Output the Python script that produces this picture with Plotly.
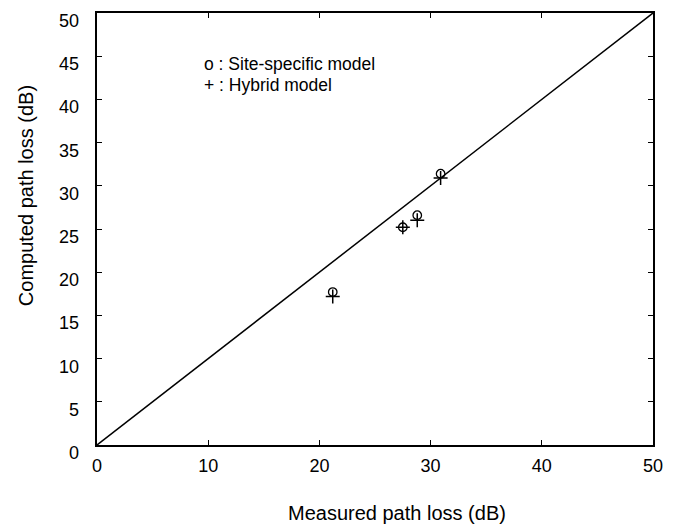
import plotly.graph_objects as go

# Measured vs. computed path loss (dB) at the test locations
measured = [21.2, 27.5, 28.8, 30.9]
site_specific = [17.7, 25.2, 26.6, 31.4]
hybrid = [17.2, 25.2, 26.0, 30.9]

# Reference line y = x
ref_line = [0, 50]

y_tick_vals = [0, 5, 10, 15, 20, 25, 30, 35, 40, 45, 50]
x_tick_vals = [0, 10, 20, 30, 40, 50]

FONT = "Liberation Sans, Arial, Helvetica, sans-serif"

# Figure geometry (pixels)
W, H = 680, 529
ML, MR, MT, MB = 97, 27, 11, 84
PW, PH = W - ML - MR, H - MT - MB

fig = go.Figure()

fig.add_trace(go.Scatter(
    x=ref_line, y=ref_line, mode="lines",
    line=dict(color="black", width=1.5),
    showlegend=False, hoverinfo="skip",
))

fig.add_trace(go.Scatter(
    x=measured, y=site_specific, mode="markers",
    marker=dict(symbol="circle-open", size=8.5, color="black",
                line=dict(color="black", width=1.3)),
    name="Site-specific model", showlegend=False,
))

fig.add_trace(go.Scatter(
    x=measured, y=hybrid, mode="markers",
    marker=dict(symbol="cross-thin-open", size=10, color="black",
                line=dict(color="black", width=1.5)),
    name="Hybrid model", showlegend=False,
))

axis_common = dict(
    showline=True, linecolor="black", linewidth=1.6, mirror="ticks",
    ticks="inside", ticklen=5, tickwidth=1.3, tickcolor="black",
    showgrid=False, zeroline=False,
    tickfont=dict(family=FONT, size=18, color="black"),
)

fig.update_xaxes(range=[0, 50], tickvals=x_tick_vals,
                 ticklabelstandoff=4, **axis_common)
fig.update_yaxes(range=[0, 50], tickvals=y_tick_vals,
                 showticklabels=False, **axis_common)

# y tick labels sit slightly below their tick marks
for v in y_tick_vals:
    fig.add_annotation(
        x=0, y=v, xref="paper", yref="y", xanchor="right", yanchor="middle",
        xshift=-16, yshift=-8, text=str(v), showarrow=False,
        font=dict(family=FONT, size=18, color="black"),
    )

# Marker key
fig.add_annotation(
    x=9.4, y=44.1, xref="x", yref="y", xanchor="left", yanchor="middle",
    text="o : Site-specific model", showarrow=False,
    font=dict(family=FONT, size=17.5, color="black"),
)
fig.add_annotation(
    x=9.4, y=41.7, xref="x", yref="y", xanchor="left", yanchor="middle",
    text="+ : Hybrid model", showarrow=False,
    font=dict(family=FONT, size=17.5, color="black"),
)

# Axis titles
fig.add_annotation(
    x=(397 - ML) / PW, y=(H - MB - 513) / PH, xref="paper", yref="paper",
    xanchor="center", yanchor="middle", showarrow=False,
    text="Measured path loss (dB)",
    font=dict(family=FONT, size=20, color="black"),
)
fig.add_annotation(
    x=(26 - ML) / PW, y=(H - MB - 195) / PH, xref="paper", yref="paper",
    xanchor="center", yanchor="middle", showarrow=False,
    text="Computed path loss (dB)", textangle=-90,
    font=dict(family=FONT, size=20, color="black"),
)

fig.update_layout(
    width=W, height=H,
    margin=dict(l=ML, r=MR, t=MT, b=MB),
    plot_bgcolor="white", paper_bgcolor="white",
    font=dict(family=FONT, color="black"),
)

fig.write_html("out.html")
